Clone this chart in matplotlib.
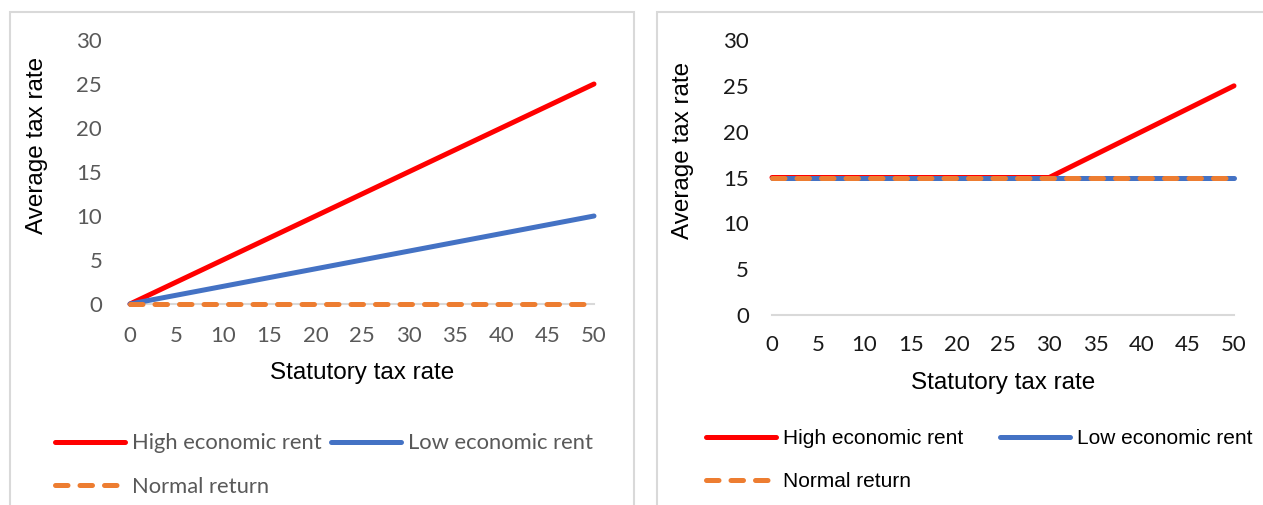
import matplotlib
matplotlib.use("Agg")
import matplotlib.pyplot as plt
from matplotlib.patches import Rectangle

# Data: statutory tax rate (x) and average tax rate for each case
statutory = [0, 5, 10, 15, 20, 25, 30, 35, 40, 45, 50]

# Panel 1: cash-flow style tax
left_high = [0, 2.5, 5, 7.5, 10, 12.5, 15, 17.5, 20, 22.5, 25]
left_low = [0, 1, 2, 3, 4, 5, 6, 7, 8, 9, 10]
left_normal = [0, 0, 0, 0, 0, 0, 0, 0, 0, 0, 0]

# Panel 2: minimum tax of 15%
right_high = [15, 15, 15, 15, 15, 15, 15, 17.5, 20, 22.5, 25]
right_low = [15, 15, 15, 15, 15, 15, 15, 15, 15, 15, 15]
right_normal = [15, 15, 15, 15, 15, 15, 15, 15, 15, 15, 15]

series_names = ["High economic rent", "Low economic rent", "Normal return"]
y_ticks = [0, 5, 10, 15, 20, 25, 30]

RED = "#ff0000"
BLUE = "#4472c4"
ORANGE = "#ed7d31"
AXIS_GREY = "#d9d9d9"

W, H = 1263, 505
fig = plt.figure(figsize=(W / 100, H / 100), dpi=100)


def rect(x0, x1, y_top, y_bottom):
    return [x0 / W, 1 - y_bottom / H, (x1 - x0) / W, (y_bottom - y_top) / H]


# chart area frames
fig.patches.append(Rectangle((10 / W, -0.05), 624 / W, 1.05 - 12 / H,
                             transform=fig.transFigure, fill=False,
                             edgecolor=AXIS_GREY, lw=1.5))
fig.patches.append(Rectangle((657 / W, -0.05), 0.5, 1.05 - 12 / H,
                             transform=fig.transFigure, fill=False,
                             edgecolor=AXIS_GREY, lw=1.5))

LW = 3.6
DASH = (2.5, 2.4)
TICK_SIZE = 16


def draw_panel(ax, high, low, normal, tick_color, ypad, xpad):
    ax.plot(statutory, high, color=RED, lw=LW, solid_capstyle="round",
            label=series_names[0], clip_on=False)
    ax.plot(statutory, low, color=BLUE, lw=LW, solid_capstyle="round",
            label=series_names[1], clip_on=False)
    ax.plot(statutory, normal, color=ORANGE, lw=LW, dashes=DASH,
            dash_capstyle="round", label=series_names[2], clip_on=False)
    ax.set_xlim(0, 50)
    ax.set_ylim(0, 30)
    ax.set_xticks(statutory)
    ax.set_yticks(y_ticks)
    for s in ("top", "right", "left"):
        ax.spines[s].set_visible(False)
    ax.spines["bottom"].set_color(AXIS_GREY)
    ax.spines["bottom"].set_linewidth(1.5)
    ax.spines["bottom"].set_zorder(0)
    ax.tick_params(axis="both", length=0, labelsize=TICK_SIZE,
                   labelcolor=tick_color)
    ax.tick_params(axis="y", pad=ypad)
    ax.tick_params(axis="x", pad=xpad)
    for lab in ax.get_xticklabels() + ax.get_yticklabels():
        lab.set_fontfamily("Lato")
    ax.set_xlabel("Statutory tax rate", fontsize=17.5,
                  fontfamily="Liberation Sans", color="black")
    ax.set_ylabel("Average tax rate", fontsize=17.5,
                  fontfamily="Liberation Sans", color="black")
    ax.xaxis.label.set_va("center")
    ax.yaxis.label.set_va("center")
    ax.patch.set_visible(False)


# Left panel
axL = fig.add_axes(rect(130, 594, 40, 304))
draw_panel(axL, left_high, left_low, left_normal, "#595959", 20, 16)
axL.xaxis.set_label_coords(0.5, (304 - 373) / 264)
axL.yaxis.set_label_coords((37 - 130) / 464, (304 - 145) / 264)

# Right panel
axR = fig.add_axes(rect(772, 1234, 40, 315))
draw_panel(axR, right_high, right_low, right_normal, "#1a1a1a", 16.5, 14.5)
axR.xaxis.set_label_coords(0.5, (315 - 383) / 275)
axR.yaxis.set_label_coords((683 - 772) / 462, (315 - 150) / 275)


def add_legend(ax, x_px, y_px, fontsize, family, color, colspacing_px):
    handles, labels = ax.get_legend_handles_labels()
    order = [0, 2, 1]  # fill rows: High / Low on the first row
    fpx = fontsize * 100 / 72
    leg = ax.legend([handles[i] for i in order], [labels[i] for i in order],
                    ncol=2, loc="center left",
                    bbox_to_anchor=(x_px / W, 1 - y_px / H),
                    bbox_transform=fig.transFigure, frameon=False,
                    borderpad=0, borderaxespad=0,
                    handlelength=70 / fpx, handletextpad=7 / fpx,
                    columnspacing=colspacing_px / fpx,
                    labelspacing=(45 - fpx) / fpx,
                    prop={"family": family, "size": fontsize})
    for t in leg.get_texts():
        t.set_color(color)
    return leg


add_legend(axL, 55, 465, 15.8, "Lato", "#595959", 9)
add_legend(axR, 706, 460, 15, "Liberation Sans", "black", 37)

fig.savefig("out.png", dpi=100)
